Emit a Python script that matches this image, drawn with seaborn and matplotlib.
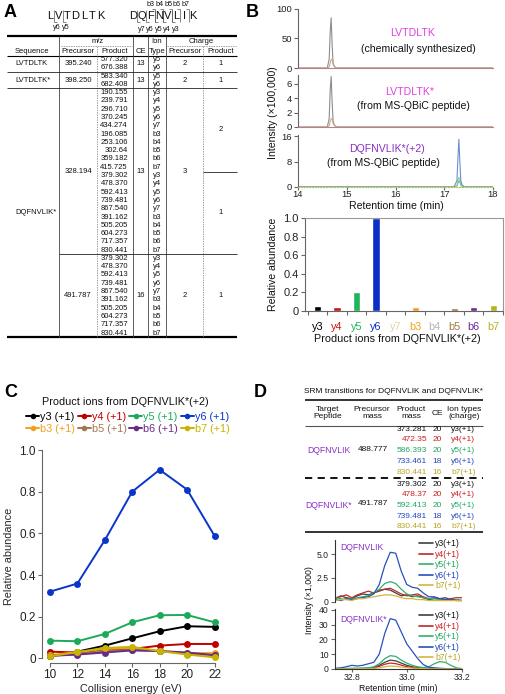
import matplotlib
matplotlib.use('Agg')
import matplotlib.pyplot as plt
from matplotlib.lines import Line2D
import numpy as np
import pandas as pd
import seaborn as sns

W, H = 505, 694

# ---------------- A: transition table ----------------
lvt_products = ['577.320', '676.388']
lvth_products = ['583.340', '682.408']
lvt_ions = ['y5', 'y6']
dqf_ce13_products = ['190.155', '239.791', '296.710', '370.245', '434.274',
                     '196.085', '253.106', '302.64', '359.182', '415.725',
                     '379.302', '478.370', '592.413', '739.481', '867.540',
                     '391.162', '505.205', '604.273', '717.357', '830.441']
dqf_ce16_products = ['379.302', '478.370', '592.413', '739.481', '867.540',
                     '391.162', '505.205', '604.273', '717.357', '830.441']
dqf_ions = ['y3', 'y4', 'y5', 'y6', 'y7', 'b3', 'b4', 'b5', 'b6', 'b7']

# ---------------- B: chromatograms + bar ----------------
rt_lvt = [14.0, 14.60, 14.64, 14.66, 14.68, 14.70, 14.72, 14.75, 14.80, 18.0]
lvt_trace_a = [0, 0, 15, 60, 85, 40, 8, 2, 0, 0]
lvt_trace_b = [0, 0, 2, 8, 14, 15, 6, 2, 0, 0]
lvth_trace_a = [0, 0, 1.2, 5, 7.0, 3.5, 0.8, 0.2, 0, 0]
lvth_trace_b = [0, 0, 0.2, 0.8, 1.1, 1.2, 0.5, 0.2, 0, 0]
rt_dqf = [14.0, 17.20, 17.26, 17.28, 17.30, 17.32, 17.34, 17.37, 17.42, 18.0]
dqf_trace_y6 = [0, 0, 2, 9, 15, 8, 2, 0.5, 0, 0]
dqf_trace_y5 = [0, 0, 0.5, 2, 3, 2.5, 1, 0.3, 0, 0]
dqf_trace_y3 = [0, 0, 0.3, 1.2, 2, 1.5, 0.5, 0.2, 0, 0]

bar_ions = ['y3', 'y4', 'y5', 'y6', 'y7', 'b3', 'b4', 'b5', 'b6', 'b7']
bar_values = [0.055, 0.045, 0.20, 1.0, 0.0, 0.038, 0.012, 0.036, 0.04, 0.062]
bar_colors = ['#000000', '#c81414', '#1db45a', '#0a2fc8', '#e0d0b0',
              '#f0a020', '#b4b4b4', '#a07840', '#6a2a9a', '#b8b020']

# ---------------- C: collision energy ----------------
ce = [10, 12, 14, 16, 18, 20, 22]
c_series = ['y3 (+1)', 'y4 (+1)', 'y5 (+1)', 'y6 (+1)',
            'b3 (+1)', 'b5 (+1)', 'b6 (+1)', 'b7 (+1)']
c_y3 = [0.010, 0.032, 0.061, 0.096, 0.130, 0.154, 0.151]
c_y4 = [0.032, 0.028, 0.040, 0.045, 0.061, 0.069, 0.069]
c_y5 = [0.085, 0.082, 0.117, 0.173, 0.207, 0.208, 0.173]
c_y6 = [0.320, 0.359, 0.567, 0.800, 0.905, 0.810, 0.588]
c_b3 = [0.015, 0.030, 0.045, 0.050, 0.035, 0.025, 0.025]
c_b5 = [0.012, 0.020, 0.035, 0.040, 0.035, 0.022, 0.015]
c_b6 = [0.012, 0.018, 0.028, 0.038, 0.035, 0.028, 0.015]
c_b7 = [0.010, 0.030, 0.050, 0.055, 0.035, 0.018, 0.005]
c_colors = ['#000000', '#c00000', '#1aaa5a', '#0a35c8',
            '#f0a020', '#a07850', '#6a2a8a', '#c8b400']

# ---------------- D: SRM table + chromatograms ----------------
d_ions = ['y3(+1)', 'y4(+1)', 'y5(+1)', 'y6(+1)', 'b7(+1)']
d_ce = ['20', '20', '20', '18', '16']
d_light_products = ['373.281', '472.35', '586.393', '733.461', '830.441']
d_heavy_products = ['379.302', '478.37', '592.413', '739.481', '830.441']
d_text_colors = ['#111111', '#cc1f1f', '#1fa862', '#2448c0', '#b8a628']
d_line_colors = ['#404040', '#c02828', '#30b070', '#2850c0', '#d4b43c']

rt_d = [32.72, 32.74, 32.76, 32.78, 32.80, 32.82, 32.84, 32.86, 32.88, 32.90,
        32.92, 32.94, 32.96, 32.98, 33.00, 33.02, 33.04, 33.06, 33.08, 33.10,
        33.12, 33.14, 33.16, 33.18, 33.20]
light_y3 = [0.5, 0.3, 0.6, 0.4, 0.3, 0.6, 0.8, 0.7, 0.9, 1.1, 1.3, 1.2, 0.9,
            0.6, 0.7, 0.5, 0.6, 0.4, 0.2, 0.3, 0.3, 0.4, 0.2, 0.2, 0.1]
light_y4 = [0.6, 0.4, 0.5, 0.7, 0.4, 0.7, 0.9, 1.1, 0.9, 1.2, 1.3, 1.4, 1.1,
            0.8, 0.6, 0.7, 0.8, 0.5, 0.3, 0.4, 0.3, 0.2, 0.3, 0.4, 0.4]
light_y5 = [0.2, 0.4, 0.3, 0.2, 0.3, 0.4, 0.5, 0.6, 0.9, 1.3, 1.9, 2.1, 1.9,
            1.3, 0.8, 0.6, 0.5, 0.4, 0.3, 0.3, 0.2, 0.2, 0.1, 0.2, 0.1]
light_y6 = [0.3, 0.2, 0.1, 0.3, 0.2, 0.3, 0.4, 0.5, 0.8, 1.8, 3.8, 5.2, 5.1,
            3.2, 1.8, 1.5, 1.4, 0.9, 0.5, 0.5, 0.3, 0.2, 0.2, 0.1, 0.1]
light_b7 = [0.2, 0.1, 0.2, 0.2, 0.1, 0.3, 0.3, 0.4, 0.5, 0.6, 0.7, 0.7, 0.6,
            0.4, 0.3, 0.3, 0.2, 0.2, 0.1, 0.1, 0.1, 0.1, 0.1, 0.1, 0.1]
heavy_y3 = [0.1, 0.1, 0.2, 0.2, 0.3, 0.3, 0.4, 0.5, 1.0, 2.5, 4.5, 6.0, 5.5,
            4.0, 2.5, 1.5, 1.0, 0.7, 0.4, 0.3, 0.2, 0.2, 0.1, 0.1, 0.1]
heavy_y4 = [0.1, 0.1, 0.1, 0.2, 0.2, 0.2, 0.3, 0.4, 0.7, 1.8, 3.2, 4.0, 3.6,
            2.6, 1.6, 1.0, 0.6, 0.4, 0.3, 0.2, 0.2, 0.1, 0.1, 0.1, 0.1]
heavy_y5 = [0.1, 0.2, 0.3, 0.4, 0.5, 0.5, 0.6, 0.8, 1.5, 3.5, 7.0, 9.0, 8.5,
            6.0, 4.0, 2.5, 1.5, 1.0, 1.5, 3.5, 5.0, 4.5, 2.5, 0.8, 0.3]
heavy_y6 = [0.3, 0.5, 0.8, 1.5, 2.5, 2.0, 2.5, 3.5, 4.5, 10, 24, 34, 33,
            25, 17, 12, 7, 3, 1.2, 0.8, 0.5, 0.3, 0.2, 0.2, 0.1]
heavy_b7 = [0.05, 0.05, 0.1, 0.1, 0.1, 0.1, 0.2, 0.2, 0.4, 0.8, 1.5, 2.0, 1.8,
            1.3, 0.9, 0.6, 0.4, 0.3, 0.2, 0.1, 0.1, 0.1, 0.1, 0.05, 0.05]

PURPLE = '#8a2fc8'
MAGENTA = '#e040e0'
AXC = '#666666'


def px_rect(x0, y0, x1, y1):
    return [x0 / W, 1 - y1 / H, (x1 - x0) / W, (y1 - y0) / H]


def fx(x):
    return x / W


def fy(y):
    return 1 - y / H


def clean(ax, size=7):
    ax.set_facecolor('none')
    for s in ['top', 'right']:
        ax.spines[s].set_visible(False)
    for s in ['left', 'bottom']:
        ax.spines[s].set_color(AXC)
        ax.spines[s].set_linewidth(0.8)
    ax.tick_params(colors=AXC, labelcolor='#222222', labelsize=size,
                   length=3, width=0.8, pad=1.5)
    ax.set_xlabel('')
    ax.set_ylabel('')


def main():
    sns.set_theme(style='ticks')
    plt.rcParams['font.family'] = ['Liberation Sans', 'DejaVu Sans']
    plt.rcParams['axes.unicode_minus'] = False

    fig = plt.figure(figsize=(W / 100, H / 100), dpi=100, facecolor='white')

    # overlay in pixel coordinates for tables and annotations
    ov = fig.add_axes([0, 0, 1, 1])
    ov.set_xlim(0, W)
    ov.set_ylim(H, 0)
    ov.axis('off')

    def txt(x, y, s, size=5.5, ha='center', color='#111111', **kw):
        ov.text(x, y, s, fontsize=size, ha=ha, va='center', color=color, **kw)

    def hl(y, x0, x1, lw=0.6, color='#222222', ls='-'):
        ov.plot([x0, x1], [y, y], color=color, lw=lw, ls=ls, solid_capstyle='butt')

    def vl(x, y0, y1, lw=0.6, color='#444444', ls='-'):
        ov.plot([x, x], [y0, y1], color=color, lw=lw, ls=ls, solid_capstyle='butt')

    # panel letters
    for lab, x, y in [('A', 4, 12), ('B', 246, 12), ('C', 4, 392), ('D', 254, 392)]:
        txt(x, y, lab, size=13, ha='left', fontweight='bold', color='black')

    # ---- A: peptide fragment diagrams
    for i, ch in enumerate('LVTDLTK'):
        txt(50 + 8.5 * i, 16, ch, size=8)
    for sx, lab in [(54.3, 'y6'), (62.8, 'y5')]:
        vl(sx, 10, 22, lw=0.5, color='#555555')
        hl(22, sx, sx + 3, lw=0.5, color='#555555')
        txt(sx + 3, 27.5, lab, size=5.2)
    for i, ch in enumerate('DQFNVLIK'):
        txt(133 + 8.6 * i, 16, ch, size=8)
    splits = [133 + 8.6 * i + 4.3 for i in range(7)]
    for sx, lab in zip(splits[:5], ['y7', 'y6', 'y5', 'y4', 'y3']):
        vl(sx, 10, 22, lw=0.5, color='#555555')
        hl(22, sx, sx + 3, lw=0.5, color='#555555')
        txt(sx + 4, 29, lab, size=5.2)
    for sx, lab in zip(splits[2:], ['b3', 'b4', 'b5', 'b6', 'b7']):
        vl(sx, 9, 22, lw=0.5, color='#555555')
        hl(9, sx - 3, sx, lw=0.5, color='#555555')
        txt(sx - 3.5, 4.5, lab, size=5.2)

    # ---- A: table
    top, bot = 36, 337
    hl(top, 7, 237, lw=1.6, color='black')
    hl(bot, 7, 237, lw=1.6, color='black')
    txt(98, 41, 'm/z')
    txt(157, 41, 'Ion')
    txt(201, 41, 'Charge')
    hl(45.5, 61, 132, lw=0.5, color='#777777', ls=(0, (2, 1.5)))
    hl(45.5, 167, 236, lw=0.5, color='#777777', ls=(0, (2, 1.5)))
    for x, s in [(78, 'Precursor'), (115, 'Product'), (140.5, 'CE'),
                 (157, 'Type'), (185, 'Precursor'), (221, 'Product')]:
        txt(x, 51, s)
    txt(15, 51, 'Sequence', ha='left')
    hl(56, 7, 237, lw=0.8, color='black')
    vl(59, top, bot)
    vl(133, top, bot)
    vl(148, top, bot)
    vl(166, top, bot)
    vl(97, 46, bot, lw=0.5, color='#777777', ls=(0, (2, 1.5)))
    vl(203, 46, bot, lw=0.5, color='#777777', ls=(0, (2, 1.5)))

    for (ys, name, prec, prods) in [((59, 67.3), 'LVTDLTK', '395.240', lvt_products),
                                    ((76, 84.3), 'LVTDLTK*', '398.250', lvth_products)]:
        yc = (ys[0] + ys[1]) / 2
        txt(15, yc, name, ha='left')
        txt(78, yc, prec)
        txt(140.5, yc, '13')
        txt(185, yc, '2')
        txt(221, yc, '1')
        for y, p, ion in zip(ys, prods, lvt_ions):
            txt(128, y, p, ha='right')
            txt(157, y, ion)
    hl(71.5, 7, 237)
    hl(88, 7, 237)

    g1 = [92.5 + 8.3 * i for i in range(20)]
    g2 = [258.3 + 8.3 * i for i in range(10)]
    for y, p, ion in zip(g1, dqf_ce13_products, dqf_ions * 2):
        txt(128, y, p, ha='right')
        txt(157, y, ion)
    for y, p, ion in zip(g2, dqf_ce16_products, dqf_ions):
        txt(128, y, p, ha='right')
        txt(157, y, ion)
    hl(254, 59, 237)
    hl(171.5, 203, 237)
    txt(15, (g1[0] + g2[-1]) / 2, 'DQFNVLIK*', ha='left')
    c1 = (g1[0] + g1[-1]) / 2
    c2 = (g2[0] + g2[-1]) / 2
    txt(78, c1, '328.194')
    txt(140.5, c1, '13')
    txt(185, c1, '3')
    txt(221, (g1[0] + g1[9]) / 2, '2')
    txt(221, (g1[10] + g1[19]) / 2, '1')
    txt(78, c2, '491.787')
    txt(140.5, c2, '16')
    txt(185, c2, '2')
    txt(221, c2, '1')

    # ---- B: chromatograms
    chrom = [
        (9, 68, 100, [0, 50, 100], [(lvt_trace_a, '#8c8c8c'), (lvt_trace_b, '#c8a890')],
         rt_lvt, 'LVTDLTK', '(chemically synthesized)', MAGENTA, (413, 33), (418, 49)),
        (75, 127, 7.2, [0, 2, 4, 6], [(lvth_trace_a, '#8c8c8c'), (lvth_trace_b, '#c8a890')],
         rt_lvt, 'LVTDLTK*', '(from MS-QBiC peptide)', MAGENTA, (410, 92), (413, 106)),
        (135.4, 187, 16.2, [0, 8, 16], [(dqf_trace_y3, '#60c0a0'), (dqf_trace_y5, '#8fd08f'),
                                         (dqf_trace_y6, '#6e8fcf')],
         rt_dqf, 'DQFNVLIK*(+2)', '(from MS-QBiC peptide)', PURPLE, (387, 149), (383, 163)),
    ]
    for k, (y0, y1, ymax, yt, traces, rt, name, sub, ncol, p1, p2) in enumerate(chrom):
        ax = fig.add_axes(px_rect(298, y0, 493, y1))
        for vals, col in traces:
            sns.lineplot(x=rt, y=vals, ax=ax, color=col, lw=0.8)
        ax.set_xlim(14, 18)
        ax.set_ylim(0, ymax)
        clean(ax, size=6.8)
        ax.set_yticks(yt)
        if k < 2:
            ax.spines['bottom'].set_color('#b08585')
            ax.set_xticks([])
        else:
            ax.spines['bottom'].set_color('#b8c040')
            ax.spines['bottom'].set_linestyle((0, (1, 1.5)))
            ax.set_xticks([14, 15, 16, 17, 18])
            ax.tick_params(axis='x', length=2, pad=0.5)
        txt(p1[0], p1[1], name, size=7.6, color=ncol)
        txt(p2[0], p2[1], sub, size=7.6, color='#111111')
    txt(273, 113, 'Intensity (\u00d7100,000)', size=7.6, rotation=90)
    txt(396, 206, 'Retention time (min)', size=7.6)

    # ---- B: relative abundance bars
    axb = fig.add_axes(px_rect(305, 218, 503, 311))
    df_bar = pd.DataFrame({'ion': bar_ions, 'abundance': bar_values})
    sns.barplot(data=df_bar, x='ion', y='abundance', hue='ion', palette=bar_colors,
                saturation=1, width=0.38, legend=False, ax=axb)
    axb.set_xlim(-0.65, 9.5)
    axb.set_ylim(0, 1.0)
    clean(axb, size=8)
    for s in ['top', 'right']:
        axb.spines[s].set_visible(True)
        axb.spines[s].set_color('#999999')
        axb.spines[s].set_linewidth(0.8)
    axb.set_yticks([0, 0.2, 0.4, 0.6, 0.8, 1.0])
    axb.set_yticklabels(['0', '0.2', '0.4', '0.6', '0.8', '1.0'])
    axb.tick_params(axis='x', length=0, labelsize=7.8, pad=8)
    axb.set_xticks(range(len(bar_ions)))
    axb.set_xticks(np.arange(-0.5, 9.6, 1), minor=True)
    axb.tick_params(axis='x', which='minor', length=3, color=AXC, width=0.8)
    for lbl, col in zip(axb.get_xticklabels(), bar_colors):
        lbl.set_color(col)
    txt(273, 264, 'Relative abundance', size=7.6, rotation=90)
    txt(397, 339, 'Product ions from DQFNVLIK*(+2)', size=7.8)

    # ---- C: collision energy curves
    axc = fig.add_axes(px_rect(42, 450, 220, 662.5))
    c_vals = [c_y3, c_y4, c_y5, c_y6, c_b3, c_b5, c_b6, c_b7]
    df_c = pd.DataFrame({
        'ce': ce * len(c_series),
        'abundance': np.concatenate(c_vals),
        'ion': np.repeat(c_series, len(ce)),
    })
    sns.lineplot(data=df_c, x='ce', y='abundance', hue='ion', hue_order=c_series,
                 palette=c_colors, marker='o', markersize=5, markeredgewidth=0,
                 lw=1.4, legend=False, ax=axc)
    axc.set_xlim(9.42, 22.4)
    axc.set_ylim(-0.02, 1.0)
    clean(axc, size=8.5)
    axc.spines['left'].set_bounds(0, 1.0)
    axc.spines['bottom'].set_bounds(10, 22)
    axc.set_xticks(ce)
    axc.set_yticks([0, 0.2, 0.4, 0.6, 0.8, 1.0])
    axc.set_yticklabels(['0', '0.2', '0.4', '0.6', '0.8', '1.0'])
    axc.set_xlabel('Collision energy (eV)', fontsize=7.8, labelpad=2)
    axc.set_ylabel('Relative abundance', fontsize=7.8, labelpad=4)
    txt(125, 402, 'Product ions from DQFNVLIK*(+2)', size=7.8)
    handles = [Line2D([], [], color=c, marker='o', markersize=4, lw=1.4, markeredgewidth=0)
               for c in c_colors]
    order = [0, 4, 1, 5, 2, 6, 3, 7]
    fig.legend([handles[i] for i in order], [c_series[i] for i in order],
               labelcolor=[c_colors[i] for i in order], ncol=4, loc='upper left',
               bbox_to_anchor=(fx(26), fy(412)), frameon=False, fontsize=7.8,
               handlelength=1.2, handletextpad=0.1, columnspacing=0.25,
               labelspacing=0.2, borderpad=0, borderaxespad=0)

    # ---- D: SRM table
    txt(393, 391, 'SRM transitions for DQFNVLIK and DQFNVLIK*', size=6)
    hl(400, 305, 483, lw=1.4, color='#333333')
    for x, s in [(328, 'Target\nPeptide'), (372, 'Precursor\nmass'),
                 (411, 'Product\nmass'), (437.5, 'CE'), (464, 'Ion types\n(charge)')]:
        ov.text(x, 413, s, fontsize=6, ha='center', va='center', linespacing=1.1,
                color='#111111')
    hl(426, 305, 483, lw=0.8, color='#555555')
    light_rows = [429, 439.7, 450.7, 461.3, 472.7]
    heavy_rows = [484, 494.7, 505.3, 516, 526.7]
    for rows, prods, name, prec in [(light_rows, d_light_products, 'DQFNVLIK', '488.777'),
                                    (heavy_rows, d_heavy_products, 'DQFNVLIK*', '491.787')]:
        for y, p, c, ion, col in zip(rows, prods, d_ce, d_ions, d_text_colors):
            txt(427, y, p, size=6, ha='right', color=col)
            txt(437.5, y, c, size=6, color=col)
            txt(451, y, ion, size=6, ha='left', color=col)
        txt(329, rows[2], name, size=6.2, color=PURPLE)
        txt(373, rows[2] - 1.5, prec, size=6)
    hl(477.5, 305, 483, lw=1.3, color='black', ls=(0, (4, 3)))
    hl(531.5, 305, 483, lw=1.4, color='#333333')

    # ---- D: chromatograms
    d_panels = [
        (540, 601.5, 6.5, [0, 2.5, 5.0], ['0', '2.5', '5.0'],
         [light_y3, light_y4, light_y5, light_y6, light_b7], 'DQFNVLIK', 548, 539),
        (609, 669, 40.5, [0, 10, 20, 30, 40], ['0', '10', '20', '30', '40'],
         [heavy_y3, heavy_y4, heavy_y5, heavy_y6, heavy_b7], 'DQFNVLIK*', 619, 611),
    ]
    for k, (y0, y1, ymax, yt, ytl, series, name, ny, ly) in enumerate(d_panels):
        ax = fig.add_axes(px_rect(335, y0, 462, y1))
        df_d = pd.DataFrame({
            'rt': rt_d * len(d_ions),
            'intensity': np.concatenate(series),
            'ion': np.repeat(d_ions, len(rt_d)),
        })
        sns.lineplot(data=df_d, x='rt', y='intensity', hue='ion', hue_order=d_ions,
                     palette=d_line_colors, lw=0.9, legend=False, ax=ax)
        ax.set_xlim(32.739, 33.201)
        ax.set_ylim(0, ymax)
        clean(ax, size=6.2)
        ax.spines['left'].set_color('#333333')
        ax.set_yticks(yt)
        ax.set_yticklabels(ytl)
        if k == 0:
            ax.spines['bottom'].set_visible(False)
            ax.set_xticks([])
        else:
            ax.spines['bottom'].set_color('#333333')
            ax.set_xticks([32.8, 33.0, 33.2])
            ax.set_xticklabels(['32.8', '33.0', '33.2'])
            ax.tick_params(axis='x', length=2, pad=0.8)
        txt(340, ny, name, size=6.2, ha='left', color=PURPLE)
        dh = [Line2D([], [], color=c, lw=1.2) for c in d_line_colors]
        fig.legend(dh, d_ions, labelcolor=d_text_colors, loc='upper left',
                   bbox_to_anchor=(fx(419), fy(ly)), frameon=False, fontsize=6.2,
                   handlelength=1.6, handletextpad=0.3, labelspacing=0.18,
                   borderpad=0, borderaxespad=0)
    txt(310, 600, 'Intensity (\u00d71,000)', size=6.3, rotation=90)
    txt(398, 688.5, 'Retention time (min)', size=6.2)

    fig.savefig('out.png', dpi=100, facecolor='white')


if __name__ == '__main__':
    main()
